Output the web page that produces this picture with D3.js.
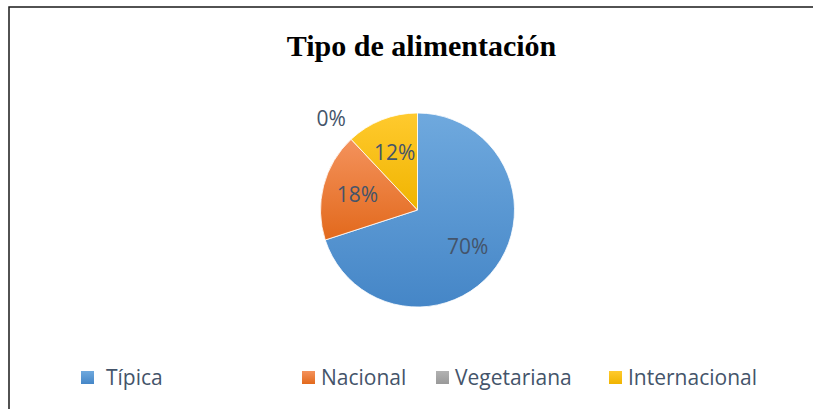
<!DOCTYPE html>
<html>
<head>
<meta charset="utf-8">
<script src="https://cdn.jsdelivr.net/npm/d3@7"></script>
<style>
  body { margin: 0; background: #fff; }
  svg { display: block; }
</style>
</head>
<body>
<script>
var width = 813;
var height = 409;

// chart data
var categories = ["Típica", "Nacional", "Vegetariana", "Internacional"];
var values = [70, 18, 0, 12];
var percentLabels = ["70%", "18%", "0%", "12%"];

// colours: top / bottom of the office-like gradient
var colorsTop = ["#6FA9DE", "#F4925C", "#B2B2B2", "#FFCA2E"];
var colorsBottom = ["#4586C7", "#E2691C", "#999999", "#F0B400"];

// legend layout (x of each square)
var legendX = [81, 302, 436, 609];

var cx = 417.5, cy = 210, radius = 97;

var svg = d3.select("body").append("svg")
    .attr("width", width)
    .attr("height", height);

// frame (only left/top visible in the crop)
svg.append("rect")
    .attr("x", 9)
    .attr("y", 7)
    .attr("width", width + 20)
    .attr("height", height + 20)
    .attr("fill", "none")
    .attr("stroke", "#1a1a1a")
    .attr("stroke-width", 1.5);

svg.append("text")
    .attr("x", 421.5)
    .attr("y", 56)
    .attr("text-anchor", "middle")
    .attr("font-family", "'Liberation Serif', 'Times New Roman', serif")
    .attr("font-weight", "bold")
    .attr("font-size", 30)
    .attr("fill", "#000")
    .text("Tipo de alimentación");

var defs = svg.append("defs");
categories.forEach(function(c, i) {
  var g = defs.append("linearGradient")
      .attr("id", "grad" + i)
      .attr("x1", 0).attr("y1", 0).attr("x2", 0).attr("y2", 1);
  g.append("stop").attr("offset", "0%").attr("stop-color", colorsTop[i]);
  g.append("stop").attr("offset", "100%").attr("stop-color", colorsBottom[i]);
});

var pie = d3.pie().sort(null).value(function(d) { return d; });
var arcs = pie(values);

var arc = d3.arc().innerRadius(0).outerRadius(radius);
var labelArc = d3.arc().innerRadius(62).outerRadius(62);
var outerLabelArc = d3.arc().innerRadius(radius + 29).outerRadius(radius + 29);

var g = svg.append("g")
    .attr("transform", "translate(" + cx + "," + cy + ")");

g.selectAll("path")
    .data(arcs)
    .enter().append("path")
      .attr("d", arc)
      .attr("fill", function(d, i) { return "url(#grad" + i + ")"; })
      .attr("stroke", "#fff")
      .attr("stroke-width", function(d) { return d.value > 0 ? 0.8 : 0; });

g.selectAll("text.lbl")
    .data(arcs)
    .enter().append("text")
      .attr("class", "lbl")
      .attr("transform", function(d) {
        var p = d.value > 0 ? labelArc.centroid(d) : outerLabelArc.centroid(d);
        return "translate(" + p[0] + "," + p[1] + ")";
      })
      .attr("text-anchor", "middle")
      .attr("dy", "0.36em")
      .attr("font-family", "'Open Sans', sans-serif")
      .attr("font-size", 21)
      .attr("fill", "#44546A")
      .text(function(d, i) { return percentLabels[i]; });

// legend
var legend = svg.append("g")
    .selectAll("g")
    .data(categories)
    .enter().append("g")
      .attr("transform", function(d, i) { return "translate(" + legendX[i] + ",371)"; });

legend.append("rect")
    .attr("width", 13)
    .attr("height", 13)
    .attr("fill", function(d, i) { return "url(#grad" + i + ")"; });

legend.append("text")
    .attr("x", function(d, i) { return i == 0 ? 25 : 19; })
    .attr("y", 14)
    .attr("font-family", "'Open Sans', sans-serif")
    .attr("font-size", 21)
    .attr("fill", "#44546A")
    .text(function(d) { return d; });
</script>
</body>
</html>
